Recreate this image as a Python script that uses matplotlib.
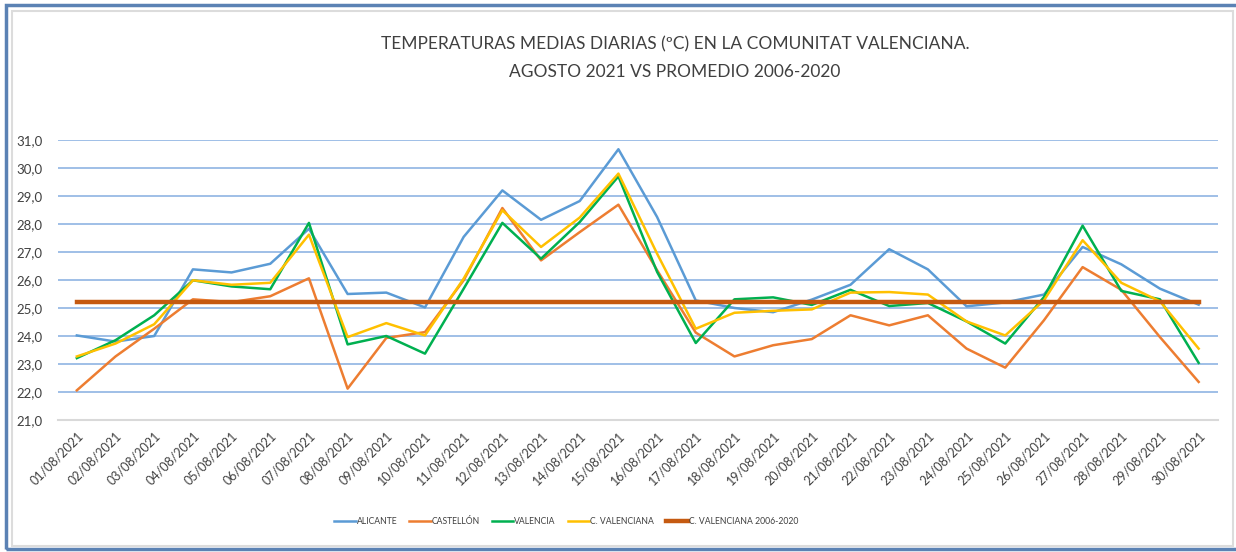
import matplotlib
matplotlib.use("Agg")
import matplotlib.pyplot as plt
from matplotlib.patches import Rectangle

plt.rcParams['font.family'] = ['Lato', 'DejaVu Sans']

# fechas de agosto 2021
dates = [f"{d:02d}/08/2021" for d in range(1, 31)]

alicante = [24.02, 23.80, 24.00, 26.38, 26.27, 26.58, 27.83, 25.50, 25.55, 25.02,
            27.54, 29.20, 28.15, 28.82, 30.67, 28.25, 25.27, 25.00, 24.85, 25.30,
            25.83, 27.10, 26.38, 25.06, 25.20, 25.48, 27.18, 26.56, 25.69, 25.12]
castellon = [22.06, 23.27, 24.26, 25.31, 25.21, 25.42, 26.06, 22.12, 23.93, 24.14,
             25.99, 28.57, 26.70, 27.71, 28.69, 26.35, 24.12, 23.27, 23.67, 23.89,
             24.74, 24.38, 24.74, 23.55, 22.87, 24.56, 26.46, 25.65, 23.96, 22.36]
valencia = [23.21, 23.85, 24.74, 25.99, 25.77, 25.67, 28.04, 23.70, 24.00, 23.37,
            25.69, 28.04, 26.76, 28.07, 29.70, 26.29, 23.75, 25.31, 25.38, 25.11,
            25.65, 25.07, 25.18, 24.52, 23.73, 25.39, 27.94, 25.61, 25.31, 23.04]
c_valenciana = [23.27, 23.73, 24.42, 25.99, 25.83, 25.90, 27.62, 23.96, 24.46, 24.02,
                26.05, 28.49, 27.18, 28.23, 29.80, 26.94, 24.26, 24.83, 24.90, 24.95,
                25.55, 25.57, 25.48, 24.52, 24.02, 25.27, 27.42, 25.90, 25.24, 23.55]
promedio = [25.2] * 30

yticks = [21, 22, 23, 24, 25, 26, 27, 28, 29, 30, 31]

fig = plt.figure(figsize=(12.36, 5.52), dpi=100)

# marco exterior (azul) e interior (gris)
fig.patches.append(Rectangle((6 / 1236, 3 / 552), 1.0, 544 / 552, transform=fig.transFigure,
                             fill=False, edgecolor='#5b82b4', linewidth=2.5))
fig.patches.append(Rectangle((12 / 1236, 6 / 552), 1221 / 1236, 535 / 552, transform=fig.transFigure,
                             fill=False, edgecolor='#dcdcdc', linewidth=1.5))

ax = fig.add_axes([57.5 / 1236, 1 - 420 / 552, (1218 - 57.5) / 1236, 280 / 552])
x = list(range(len(dates)))

ax.plot(x, alicante, color='#5b9bd5', lw=1.8, label='ALICANTE')
ax.plot(x, castellon, color='#ed7d31', lw=1.8, label='CASTELLÓN')
ax.plot(x, valencia, color='#00b050', lw=1.8, label='VALENCIA')
ax.plot(x, c_valenciana, color='#ffc000', lw=1.8, label='C. VALENCIANA')
ax.plot(x, promedio, color='#c55a11', lw=3.2, label='C. VALENCIANA 2006-2020')

ax.set_xlim(-0.5, len(dates) - 0.5)
ax.set_ylim(21, 31)
ax.set_yticks(yticks)
ax.set_yticklabels([f"{v:.1f}".replace('.', ',') for v in yticks], fontsize=9.5, color='#404040')
ax.set_xticks(x)
ax.set_xticklabels(dates, rotation=45, ha='right', va='top', rotation_mode='anchor',
                   fontsize=9, color='#404040')
ax.tick_params(axis='both', length=0)
ax.tick_params(axis='y', pad=11)
ax.tick_params(axis='x', pad=7)

for s in ['top', 'right', 'left']:
    ax.spines[s].set_visible(False)
ax.spines['bottom'].set_color('#d9d9d9')
ax.spines['bottom'].set_linewidth(1.5)
for v in yticks[1:]:
    ax.axhline(v, color='#8fb4e3', lw=1.2, zorder=0)

fig.text(675 / 1236, 1 - 44 / 552, 'TEMPERATURAS MEDIAS DIARIAS (ºC) EN LA COMUNITAT VALENCIANA.',
         ha='center', va='center', fontsize=12.5, color='#404040')
fig.text(675 / 1236, 1 - 72 / 552, 'AGOSTO 2021 VS PROMEDIO 2006-2020',
         ha='center', va='center', fontsize=12.5, color='#404040')

fig.legend(loc='center', bbox_to_anchor=(566 / 1236, 1 - 522 / 552), ncol=5, frameon=False,
           fontsize=6.2, handlelength=2.5, handletextpad=0.1, columnspacing=1.4,
           labelcolor='#404040')

fig.savefig('out.png', dpi=100)
